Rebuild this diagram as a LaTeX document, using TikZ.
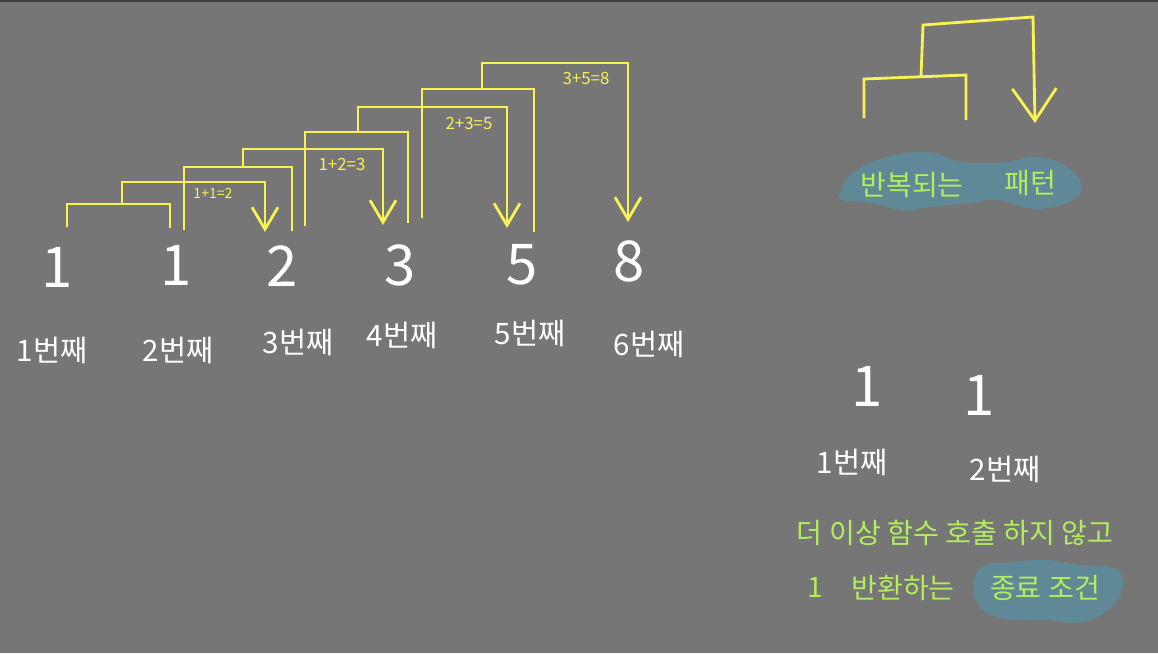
\documentclass[tikz,border=0pt]{standalone}
\usepackage{fontspec}
\setmainfont{Noto Sans CJK KR}
\usepackage{tikz}
\usetikzlibrary{arrows.meta, positioning}
\definecolor{board}{RGB}{118,118,118}
\definecolor{chalkyellow}{RGB}{248,242,82}
\definecolor{chalkgreen}{RGB}{178,238,92}
\definecolor{marker}{RGB}{94,140,156}
\tikzstyle{num}=[text=white, font=\fontsize{40}{40}\selectfont, inner sep=0pt]
\tikzstyle{turn}=[text=white, font=\fontsize{21}{21}\selectfont, inner sep=0pt]
\tikzstyle{sum}=[text=chalkyellow, font=\fontsize{12}{12}\selectfont, inner sep=0pt]
\tikzstyle{note}=[text=chalkgreen, font=\fontsize{20}{20}\selectfont, inner sep=0pt]
\tikzstyle{call}=[draw=chalkyellow, line width=2pt]
\tikzstyle{ret}=[call, -{Straight Barb[length=5.5mm, width=6.5mm]}]
\tikzstyle{bigret}=[call, -{Straight Barb[length=8mm, width=11mm]}]
\tikzstyle{blob}=[fill=marker, fill opacity=0.9]

\begin{document}
\begin{tikzpicture}[x=0.025cm, y=-0.025cm]
          \useasboundingbox (0,0) rectangle (1158,653);
          \fill[board] (0,0) rectangle (1158,653);
          \fill[black!75] (0,0) rectangle (1158,2);

          % fibonacci values and their turns
          \node[num] (f1) at (57,267) {1};
          \node[num] (f2) at (176,265) {1};
          \node[num] (f3) at (282,266) {2};
          \node[num] (f4) at (400,265) {3};
          \node[num] (f5) at (522,265) {5};
          \node[num] (f6) at (629,261) {8};
          \node[turn] (o1) at (52,350) {1번째};
          \node[turn] (o2) at (178,350) {2번째};
          \node[turn] (o3) at (298,342) {3번째};
          \node[turn] (o4) at (402,335) {4번째};
          \node[turn] (o5) at (530,333) {5번째};
          \node[turn] (o6) at (649,344) {6번째};

          % calls: legs, stems and arrow tips
          \coordinate (l1) at (67,227);  \coordinate (r1) at (170,228);
          \coordinate (l2) at (184,230); \coordinate (r2) at (292,231);
          \coordinate (l3) at (305,226); \coordinate (r3) at (408,223);
          \coordinate (l4) at (422,218); \coordinate (r4) at (534,232);
          \coordinate (s1) at (122,204); \coordinate (t1) at (265,232);
          \coordinate (s2) at (243,167); \coordinate (t2) at (383,225);
          \coordinate (s3) at (358,132); \coordinate (t3) at (507,228);
          \coordinate (s4) at (482,89);  \coordinate (t4) at (628,222);
          \draw[call] (l1) -- ++(0,-23) -| (r1);
          \draw[call] (l2) -- ++(0,-63) -| (r2);
          \draw[call] (l3) -- ++(0,-94) -| (r3);
          \draw[call] (l4) -- ++(0,-129) -| (r4);
          \draw[ret] (s1) -- ++(0,-22) -| (t1);
          \draw[ret] (s2) -- ++(0,-18) -| (t2);
          \draw[ret] (s3) -- ++(0,-25) -| (t3);
          \draw[ret] (s4) -- ++(0,-26) -| (t4);
          \node[sum, font=\fontsize{10}{10}\selectfont] (p1) at (213,193) {1+1=2};
          \node[sum] (p2) at (342,164) {1+2=3};
          \node[sum] (p3) at (469,123) {2+3=5};
          \node[sum] (p4) at (586,78) {3+5=8};

          % repeating pattern
          \coordinate (ql) at (864,118); \coordinate (qr) at (966,120);
          \coordinate (qs) at (921,77);  \coordinate (qt) at (1035,123);
          \draw[call] (ql) -- ++(0,-39) -- ++(102,-4) -- (qr);
          \draw[bigret] (qs) -- ++(2,-52) -- ++(110,-8) -- (qt);
          \fill[blob] plot[smooth cycle, tension=0.7] coordinates {(840,193) (853,173) (887,157) (927,152) (953,160) (977,163) (1007,162) (1033,157) (1060,163) (1080,180) (1077,197) (1053,207) (1027,208) (997,200) (970,203) (930,207) (903,210) (870,203) (843,200)};
          \node[note] (rep) at (912,185) {반복되는};
          \node[note] (pat) at (1030,183) {패턴};

          % base case
          \node[num] (g1) at (867,386) {1};
          \node[num] (g2) at (979,395) {1};
          \node[turn] (h1) at (852,462) {1번째};
          \node[turn] (h2) at (1005,469) {2번째};
          \node[note] (stop) at (955,533) {더 이상 함수 호출 하지 않고};
          \fill[blob] plot[smooth cycle, tension=0.7] coordinates {(975,577) (987,565) (1013,562) (1047,560) (1080,565) (1113,568) (1123,580) (1117,600) (1097,617) (1073,623) (1047,620) (1013,620) (987,613) (975,597)};
          \node[note] (one) at (815,587) {1};
          \node[note] (back) at (903,588) {반환하는};
          \node[note] (cond) at (1045,588) {종료 조건};
        \end{tikzpicture}
\end{document}
